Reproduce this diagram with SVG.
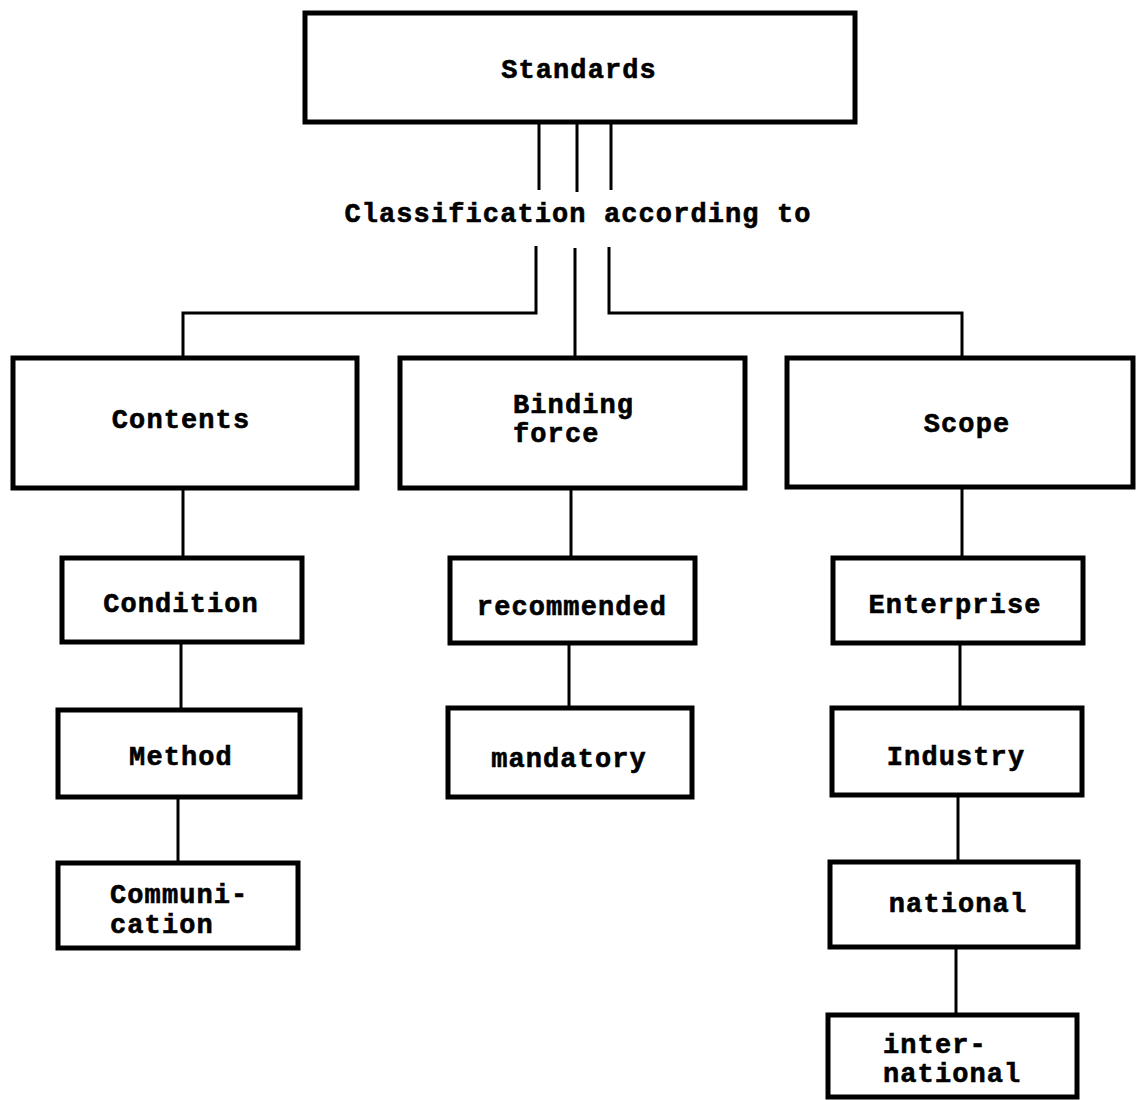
<svg xmlns="http://www.w3.org/2000/svg" width="1138" height="1100" viewBox="0 0 1138 1100">
  <style>
    .box { fill: #fff; stroke: #000; stroke-width: 5; }
    .wire { fill: none; stroke: #000; stroke-width: 3; }
    .lbl { font-family: "Liberation Mono", "Courier New", monospace; font-weight: bold; font-size: 27px; letter-spacing: 1.1px; fill: #000; stroke: #000; stroke-width: 0.6px; }
    .mid { text-anchor: middle; }
  </style>
  <rect width="1138" height="1100" fill="#fff"/>

  <!-- connectors -->
  <g id="connectors">
    <path class="wire" d="M539 123 V190"/>
    <path class="wire" d="M577 123 V192"/>
    <path class="wire" d="M611 123 V190"/>
    <path class="wire" d="M536 246 V313 H183 V358"/>
    <path class="wire" d="M575 248 V358"/>
    <path class="wire" d="M609 247 V313 H962 V358"/>
    <path class="wire" d="M183 488 V558"/>
    <path class="wire" d="M181 642 V710"/>
    <path class="wire" d="M178 797 V863"/>
    <path class="wire" d="M571 488 V558"/>
    <path class="wire" d="M569 643 V708"/>
    <path class="wire" d="M962 487 V558"/>
    <path class="wire" d="M960 643 V708"/>
    <path class="wire" d="M958 795 V862"/>
    <path class="wire" d="M956 947 V1015"/>
  </g>

  <g id="standards">
    <rect class="box" x="305" y="13" width="550" height="109"/>
    <text class="lbl mid" x="579" y="78">Standards</text>
  </g>

  <g id="classification-label">
    <text class="lbl mid" x="578" y="222">Classification according to</text>
  </g>

  <g id="contents">
    <rect class="box" x="13" y="358" width="344" height="130"/>
    <text class="lbl mid" x="181" y="428">Contents</text>
  </g>

  <g id="condition">
    <rect class="box" x="62" y="558" width="240" height="84"/>
    <text class="lbl mid" x="181" y="612">Condition</text>
  </g>

  <g id="method">
    <rect class="box" x="58" y="710" width="242" height="87"/>
    <text class="lbl mid" x="181" y="765">Method</text>
  </g>

  <g id="communication">
    <rect class="box" x="58" y="863" width="240" height="85"/>
    <text class="lbl" x="110" y="903">Communi-</text>
    <text class="lbl" x="110" y="933">cation</text>
  </g>

  <g id="binding-force">
    <rect class="box" x="400" y="358" width="345" height="130"/>
    <text class="lbl" x="513" y="413">Binding</text>
    <text class="lbl" x="513" y="442">force</text>
  </g>

  <g id="recommended">
    <rect class="box" x="450" y="558" width="245" height="85"/>
    <text class="lbl mid" x="572" y="615">recommended</text>
  </g>

  <g id="mandatory">
    <rect class="box" x="448" y="708" width="244" height="89"/>
    <text class="lbl mid" x="569" y="767">mandatory</text>
  </g>

  <g id="scope">
    <rect class="box" x="787" y="358" width="346" height="129"/>
    <text class="lbl mid" x="967" y="432">Scope</text>
  </g>

  <g id="enterprise">
    <rect class="box" x="833" y="558" width="250" height="85"/>
    <text class="lbl mid" x="955" y="613">Enterprise</text>
  </g>

  <g id="industry">
    <rect class="box" x="832" y="708" width="250" height="87"/>
    <text class="lbl mid" x="956" y="765">Industry</text>
  </g>

  <g id="national">
    <rect class="box" x="830" y="862" width="248" height="85"/>
    <text class="lbl mid" x="958" y="912">national</text>
  </g>

  <g id="international">
    <rect class="box" x="828" y="1015" width="249" height="82"/>
    <text class="lbl" x="883" y="1053">inter-</text>
    <text class="lbl" x="883" y="1082">national</text>
  </g>
</svg>
